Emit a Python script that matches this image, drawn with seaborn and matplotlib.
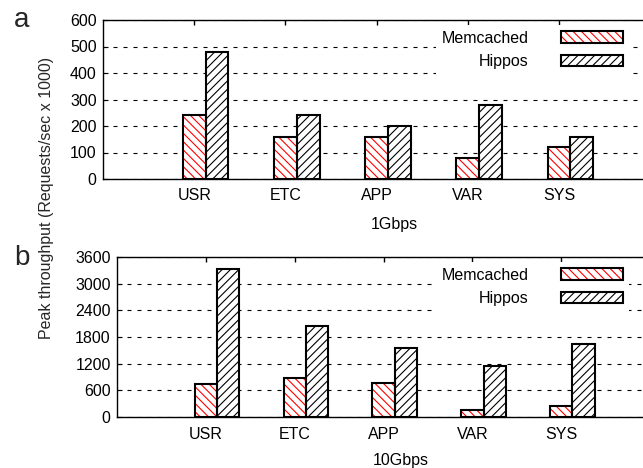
import numpy as np
import pandas as pd
import matplotlib
matplotlib.use("Agg")
import matplotlib.pyplot as plt
import seaborn as sns
from matplotlib.patches import Patch
from matplotlib.legend_handler import HandlerTuple

# ---- data ----
workloads = ["USR", "ETC", "APP", "VAR", "SYS"]
systems = ["Memcached", "Hippos"]
memcached_1g = [240, 160, 160, 80, 120]
hippos_1g = [480, 240, 200, 280, 160]
memcached_10g = [740, 870, 770, 150, 250]
hippos_10g = [3330, 2040, 1560, 1150, 1650]
yticks_1g = [0, 100, 200, 300, 400, 500, 600]
yticks_10g = [0, 600, 1200, 1800, 2400, 3000, 3600]
panel_labels = ["a", "b"]
xlabels = ["1Gbps", "10Gbps"]
ylabel = "Peak throughput (Requests/sec x 1000)"

sns.set_theme(style="white")
plt.rcParams["font.family"] = ["Liberation Sans", "DejaVu Sans"]
plt.rcParams["hatch.linewidth"] = 0.8

FS = 11.5
hatch_colors = {"Memcached": "#ff0000", "Hippos": "#000000"}
hatches = {"Memcached": "\\\\\\\\", "Hippos": "////"}

W, H = 643, 468
fig = plt.figure(figsize=(W / 100, H / 100), dpi=100)


def px_axes(left, top, right, bottom):
    return fig.add_axes([left / W, 1 - bottom / H, (right - left) / W, (bottom - top) / H])


def draw(ax, mem, hip, yticks, xlabel, label_xy, xpad, legend_top):
    df = pd.DataFrame({
        "workload": workloads * 2,
        "system": [systems[0]] * len(workloads) + [systems[1]] * len(workloads),
        "value": list(mem) + list(hip),
    })
    common = dict(data=df, x="workload", y="value", hue="system", order=workloads,
                  hue_order=systems, width=0.5, saturation=1, errorbar=None,
                  legend=False, ax=ax,
                  palette={s: "white" for s in systems})
    # hatch layer
    sns.barplot(linewidth=0, zorder=2, **common)
    for cont, s in zip(ax.containers[:2], systems):
        for p in cont:
            p.set_edgecolor(hatch_colors[s])
            p.set_hatch(hatches[s])
            p.set_linewidth(0)
    # outline layer
    sns.barplot(linewidth=1.5, zorder=3, **common)
    for cont in ax.containers[2:]:
        for p in cont:
            p.set_facecolor("none")
            p.set_edgecolor("black")
            p.set_linewidth(1.5)

    ax.set_ylim(yticks[0], yticks[-1])
    ax.set_yticks(yticks)
    ax.set_xticks(np.arange(len(workloads)) - 0.125)
    ax.set_xticklabels(workloads)
    ax.set_xlim(-1.125, 4.795)
    ax.set_ylabel("")
    ax.set_xlabel(xlabel, fontsize=FS, color="black")
    ax.xaxis.set_label_coords(*label_xy)
    ax.xaxis.label.set_va("center")

    ax.set_axisbelow(True)
    ax.yaxis.grid(True, color="black", lw=0.8, linestyle=(0, (3.6, 5.4)))
    ax.xaxis.grid(False)
    ax.tick_params(axis="x", bottom=False, top=True, direction="in", length=3.6,
                   width=1, labelsize=FS, pad=xpad, colors="black")
    ax.tick_params(axis="y", left=True, right=False, direction="in", length=3.6,
                   width=0.8, labelsize=FS, pad=4.5, colors="black")
    for side in ["left", "top", "bottom"]:
        ax.spines[side].set_color("black")
        ax.spines[side].set_linewidth(1.0)
    ax.spines["right"].set_visible(False)

    handles = [
        (Patch(facecolor="white", edgecolor=hatch_colors[s], hatch=hatches[s], lw=0),
         Patch(facecolor="none", edgecolor="black", lw=1.5))
        for s in systems
    ]
    leg = ax.legend(handles, systems, handler_map={tuple: HandlerTuple(ndivide=1, pad=0)},
                    loc="upper right", bbox_to_anchor=(629 / W, 1 - legend_top / H),
                    bbox_transform=fig.transFigure, borderaxespad=0, markerfirst=False,
                    handlelength=3.9, handleheight=0.7, handletextpad=2.05,
                    labelspacing=0.55, frameon=True, framealpha=1, fancybox=False,
                    borderpad=0.35, fontsize=FS)
    leg.get_frame().set_facecolor("white")
    leg.get_frame().set_edgecolor("none")
    for t in leg.get_texts():
        t.set_color("black")


ax1 = px_axes(103, 20, 643, 179)
draw(ax1, memcached_1g, hippos_1g, yticks_1g, xlabels[0],
     ((394 - 103) / 540, (179 - 224) / 159), 6.5, 25)

ax2 = px_axes(117, 257, 643, 417)
draw(ax2, memcached_10g, hippos_10g, yticks_10g, xlabels[1],
     ((401 - 117) / 526, (417 - 460) / 160), 7, 262)

fig.text(22 / W, 1 - 27 / H, panel_labels[0], fontsize=20, ha="center", va="baseline")
fig.text(22 / W, 1 - 265 / H, panel_labels[1], fontsize=20, ha="center", va="baseline")
fig.text(47 / W, 1 - 198 / H, ylabel, rotation=90, ha="center", va="center", fontsize=FS)

fig.savefig("out.png", dpi=100)
